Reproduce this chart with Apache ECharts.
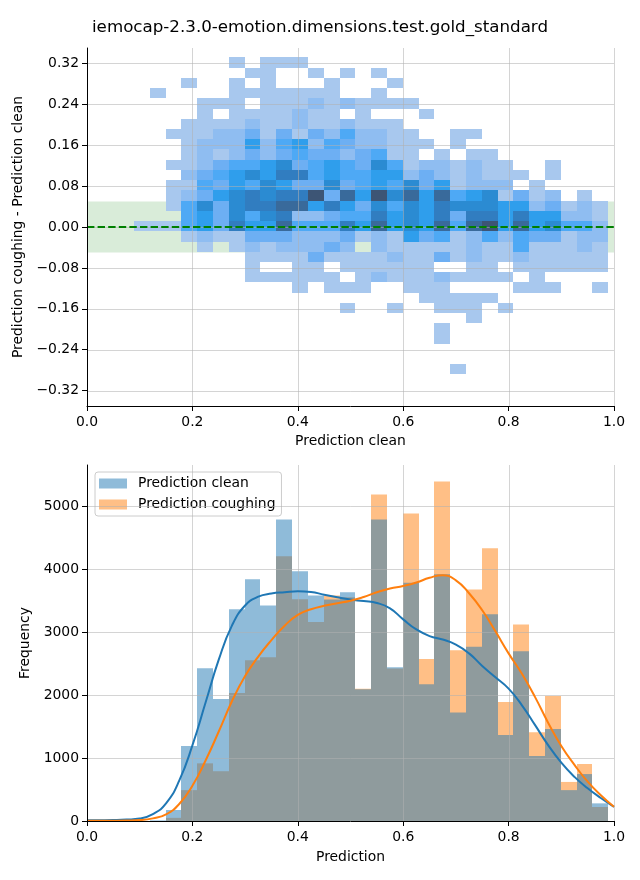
<!DOCTYPE html>
<html><head><meta charset="utf-8">
<script src="https://cdn.jsdelivr.net/npm/echarts@6/dist/echarts.min.js"></script>
<style>html,body{margin:0;padding:0;background:#fff}#c{width:640px;height:880px}</style>
</head><body><div id="c"></div>
<script>
// ---------------- data ----------------
const titleText = 'iemocap-2.3.0-emotion.dimensions.test.gold_standard';

// shared x bins (Prediction clean / Prediction)
const xBinStart = 0.0892;
const xBinWidth = 0.03;
// y bins of the 2D histogram (difference)
const yBinTop = 0.3316;
const yBinHeight = 0.02;

// 2D histogram: count level per cell (0 = empty), rows from top (y high) to bottom, 30 columns each
const cellLevels = [
  "00000 01011 10000 00000 00000 00000",
  "00000 00110 01010 10000 00000 00000",
  "00010 01010 00100 01000 00000 00000",
  "01000 01111 11100 10000 00000 00000",
  "00001 11011 12121 11100 00000 00000",
  "00001 01111 21101 00010 00000 00000",
  "00011 11211 21121 11000 00000 00000",
  "00111 22313 13242 21100 11000 00000",
  "00012 22524 52432 21110 10000 00000",
  "00012 12323 43323 41101 01100 00000",
  "00112 34456 34543 64122 12110 01000",
  "00023 45657 74544 55232 12111 01000",
  "00114 35465 33634 54635 12220 10000",
  "00123 56767 79385 96858 45613 12010",
  "00146 36778 85753 64657 66655 23121",
  "00045 36467 22344 75657 37757 55221",
  "11145 37558 44475 85658 48958 56442",
  "00012 11333 22231 21534 12424 33122",
  "00001 01212 22320 21111 12114 11121",
  "00000 00111 13111 12113 12112 11111",
  "00000 00100 11011 11110 01101 11111",
  "00000 00111 11101 21112 11110 10000",
  "00000 00000 10111 00111 00001 11001",
  "00000 00000 00000 00011 11100 00000",
  "00000 00000 00010 01001 11010 00000",
  "00000 00000 00000 00000 01000 00000",
  "00000 00000 00000 00001 00000 00000",
  "00000 00000 00000 00001 00000 00000",
  "00000 00000 00000 00000 00000 00000",
  "00000 00000 00000 00000 00000 00000",
  "00000 00000 00000 00000 10000 00000"
];

const xTicks = [0, 0.2, 0.4, 0.6, 0.8, 1.0];
const diffTicks = [-0.32, -0.24, -0.16, -0.08, 0, 0.08, 0.16, 0.24, 0.32];
const diffRange = [-0.35, 0.35];
const toleranceBand = [-0.05, 0.05];
const zeroLine = 0;

// 1D histograms (30 bins, same edges as above)
const cleanCounts = [0, 10, 175, 1190, 2425, 1935, 3360, 3835, 3420, 4785, 3965, 3580, 3515, 3630, 2090, 4785, 2440, 3780, 2170, 3915, 1720, 2765, 3280, 1365, 2695, 1030, 1460, 490, 745, 280];
const coughCounts = [0, 0, 50, 490, 915, 790, 2030, 2550, 2600, 4200, 3520, 3160, 3580, 3550, 2100, 5180, 2420, 4880, 2570, 5390, 2710, 3675, 4330, 1890, 3120, 1410, 1985, 620, 905, 222];

// KDE curves (scaled to counts)
const kdeX = [0, 0.025, 0.05, 0.075, 0.1, 0.125, 0.15, 0.175, 0.2, 0.225, 0.25, 0.275, 0.3, 0.325, 0.35, 0.375, 0.4, 0.425, 0.45, 0.475, 0.5, 0.525, 0.55, 0.575, 0.6, 0.625, 0.65, 0.675, 0.7, 0.725, 0.75, 0.775, 0.8, 0.825, 0.85, 0.875, 0.9, 0.925, 0.95, 0.975, 1.0];
const kdeClean = [12, 13, 15, 22, 40, 110, 280, 640, 1200, 1880, 2560, 3100, 3420, 3560, 3610, 3630, 3645, 3635, 3590, 3550, 3515, 3490, 3460, 3375, 3200, 3040, 2935, 2880, 2800, 2660, 2460, 2280, 2100, 1840, 1525, 1205, 925, 700, 520, 365, 225];
const kdeCough = [3, 4, 5, 8, 15, 42, 105, 270, 560, 960, 1420, 1900, 2300, 2610, 2870, 3100, 3270, 3360, 3415, 3455, 3495, 3555, 3630, 3690, 3730, 3785, 3860, 3900, 3820, 3615, 3345, 3010, 2660, 2340, 1970, 1560, 1190, 890, 625, 410, 225];

const freqTicks = [0, 1000, 2000, 3000, 4000, 5000];
const freqMax = 5650;

// ---------------- styles ----------------
const FONT = 'DejaVu Sans';
const gridColor = 'rgba(176,176,176,0.55)';
const cellPalette = ['#a8c8ee', '#8fbdf1', '#6daff3', '#4ea9f5', '#2f9eec', '#2b8bd2', '#317dc0', '#396a9b', '#3d5575'];

// ---------------- build ----------------
const cellData = [];
cellLevels.forEach((row, r) => {
  const s = row.replace(/ /g, '');
  for (let c = 0; c < s.length; c++) {
    const v = +s[c];
    if (v > 0) cellData.push([xBinStart + c * xBinWidth, yBinTop - (r + 1) * yBinHeight, v]);
  }
});
const histData = counts => counts.map((n, k) => [xBinStart + k * xBinWidth, xBinStart + (k + 1) * xBinWidth, n]);

function cellItem(params, api) {
  const x0 = api.value(0), y0 = api.value(1);
  const a = api.coord([x0, y0 + yBinHeight]);
  const b = api.coord([x0 + xBinWidth, y0]);
  const x = Math.round(a[0]), y = Math.round(a[1]);
  return {type: 'rect', shape: {x: x, y: y, width: Math.round(b[0]) - x, height: Math.round(b[1]) - y},
          style: {fill: api.visual('color')}};
}
function barItem(params, api) {
  const a = api.coord([api.value(0), api.value(2)]);
  const b = api.coord([api.value(1), 0]);
  const x = Math.round(a[0]), y = a[1];
  return {type: 'rect', shape: {x: x, y: y, width: Math.round(b[0]) - x, height: b[1] - y},
          style: {fill: api.visual('color')}};
}
function hLine(style) {
  return function (params, api) {
    const cs = params.coordSys;
    const y = Math.round(api.coord([0, api.value(1)])[1]) + 0.5;
    return {type: 'line', shape: {x1: cs.x, y1: y, x2: cs.x + cs.width, y2: y}, style: style};
  };
}
function vLine(style) {
  return function (params, api) {
    const cs = params.coordSys;
    const x = Math.round(api.coord([api.value(0), 0])[0]) + 0.5;
    return {type: 'line', shape: {x1: x, y1: cs.y, x2: x, y2: cs.y + cs.height}, style: style};
  };
}
function bandItem(params, api) {
  const cs = params.coordSys;
  const y1 = api.coord([0, api.value(2)])[1];
  const y0 = api.coord([0, api.value(1)])[1];
  return {type: 'rect', shape: {x: cs.x, y: y1, width: cs.width, height: y0 - y1},
          style: {fill: 'rgba(0,128,0,0.15)'}};
}

const gridStyle = {stroke: gridColor, lineWidth: 1};
const txt = {color: '#000', fontSize: 13.9, fontFamily: FONT};
const axisCommon = {
  axisLine: {show: true, onZero: false, lineStyle: {color: '#000', width: 1}},
  axisTick: {show: true, length: 5, lineStyle: {color: '#000', width: 1}},
  splitLine: {show: false},
  nameLocation: 'middle',
  nameTextStyle: txt,
  z: 10
};
const minus = s => s.replace('-', '\u2212');

const option = {
  animation: false,
  backgroundColor: '#fff',
  title: {text: titleText, left: 'center', top: 19, padding: 0,
          textStyle: {fontSize: 16.7, fontWeight: 'normal', color: '#000', fontFamily: FONT}},
  legend: {
    data: [{name: 'Prediction clean', icon: 'rect'}, {name: 'Prediction coughing', icon: 'rect'}],
    orient: 'vertical', left: 95, top: 472, padding: [3, 6, 3, 4], itemGap: 4,
    itemWidth: 28, itemHeight: 10,
    backgroundColor: 'rgba(255,255,255,0.8)', borderColor: '#cccccc', borderWidth: 1, borderRadius: 3,
    textStyle: Object.assign({}, txt, {lineHeight: 17, padding: [0, 0, 0, 6]}),
    selectedMode: false
  },
  visualMap: {type: 'continuous', show: false, seriesIndex: 1, dimension: 2, min: 1, max: 9,
              inRange: {color: cellPalette}},
  grid: [
    {left: 87, top: 48, width: 527, height: 358},
    {left: 87, top: 465, width: 527, height: 356}
  ],
  xAxis: [
    Object.assign({}, axisCommon, {gridIndex: 0, type: 'value', min: 0, max: 1, interval: 0.2,
      name: 'Prediction clean', nameGap: 28,
      axisLabel: Object.assign({}, txt, {margin: 9, formatter: v => v.toFixed(1)})}),
    Object.assign({}, axisCommon, {gridIndex: 1, type: 'value', min: 0, max: 1, interval: 0.2,
      name: 'Prediction', nameGap: 29,
      axisLabel: Object.assign({}, txt, {margin: 9, formatter: v => v.toFixed(1)})})
  ],
  yAxis: [
    Object.assign({}, axisCommon, {gridIndex: 0, type: 'value', min: diffRange[0], max: diffRange[1],
      name: 'Prediction coughing - Prediction clean', nameGap: 55,
      axisTick: Object.assign({}, axisCommon.axisTick, {customValues: diffTicks}),
      axisLabel: Object.assign({}, txt, {margin: 8, customValues: diffTicks,
        formatter: v => minus((Math.abs(v) < 1e-9 ? 0 : v).toFixed(2))})}),
    Object.assign({}, axisCommon, {gridIndex: 1, type: 'value', min: 0, max: freqMax,
      name: 'Frequency', nameGap: 48,
      axisTick: Object.assign({}, axisCommon.axisTick, {customValues: freqTicks}),
      axisLabel: Object.assign({}, txt, {margin: 8, customValues: freqTicks, formatter: v => String(v)})})
  ],
  series: [
    {type: 'custom', name: 'band', xAxisIndex: 0, yAxisIndex: 0, z: 1, silent: true,
     data: [[0, toleranceBand[0], toleranceBand[1]]], renderItem: bandItem},
    {type: 'custom', name: 'cells', xAxisIndex: 0, yAxisIndex: 0, z: 2, silent: true,
     encode: {x: 0, y: 1}, data: cellData, renderItem: cellItem},
    {type: 'custom', name: 'hgrid0', xAxisIndex: 0, yAxisIndex: 0, z: 3, silent: true,
     data: diffTicks.map(v => [0, v]), renderItem: hLine(gridStyle)},
    {type: 'custom', name: 'vgrid0', xAxisIndex: 0, yAxisIndex: 0, z: 3, silent: true,
     data: xTicks.filter(v => v > 0).map(v => [v, 0]), renderItem: vLine(gridStyle)},
    {type: 'custom', name: 'zero', xAxisIndex: 0, yAxisIndex: 0, z: 4, silent: true,
     data: [[0, zeroLine]],
     renderItem: function (params, api) {
       const cs = params.coordSys;
       const y = api.coord([0, api.value(1)])[1];
       return {type: 'line', shape: {x1: cs.x, y1: y, x2: cs.x + cs.width, y2: y},
               style: {stroke: '#008000', lineWidth: 2, lineDash: [7.4, 3.2]}};
     }},
    {type: 'custom', name: 'Prediction coughing', xAxisIndex: 1, yAxisIndex: 1, z: 2, silent: true,
     itemStyle: {color: 'rgba(255,127,14,0.5)'}, encode: {x: [0, 1], y: 2},
     data: histData(coughCounts), renderItem: barItem},
    {type: 'custom', name: 'Prediction clean', xAxisIndex: 1, yAxisIndex: 1, z: 3, silent: true,
     itemStyle: {color: 'rgba(31,119,180,0.5)'}, encode: {x: [0, 1], y: 2},
     data: histData(cleanCounts), renderItem: barItem},
    {type: 'custom', name: 'hgrid1', xAxisIndex: 1, yAxisIndex: 1, z: 4, silent: true,
     data: freqTicks.filter(v => v > 0).map(v => [0, v]), renderItem: hLine(gridStyle)},
    {type: 'custom', name: 'vgrid1', xAxisIndex: 1, yAxisIndex: 1, z: 4, silent: true,
     data: xTicks.filter(v => v > 0).map(v => [v, 0]), renderItem: vLine(gridStyle)},
    {type: 'line', name: 'kde clean', xAxisIndex: 1, yAxisIndex: 1, z: 5, silent: true,
     showSymbol: false, smooth: 0.5,
     lineStyle: {color: '#1f77b4', width: 2}, itemStyle: {color: '#1f77b4'},
     data: kdeX.map((x, i) => [x, kdeClean[i]])},
    {type: 'line', name: 'kde coughing', xAxisIndex: 1, yAxisIndex: 1, z: 6, silent: true,
     showSymbol: false, smooth: 0.5,
     lineStyle: {color: '#ff7f0e', width: 2}, itemStyle: {color: '#ff7f0e'},
     data: kdeX.map((x, i) => [x, kdeCough[i]])}
  ]
};

const chart = echarts.init(document.getElementById('c'), null, {renderer: 'canvas'});
chart.setOption(option);
</script>
</body></html>
